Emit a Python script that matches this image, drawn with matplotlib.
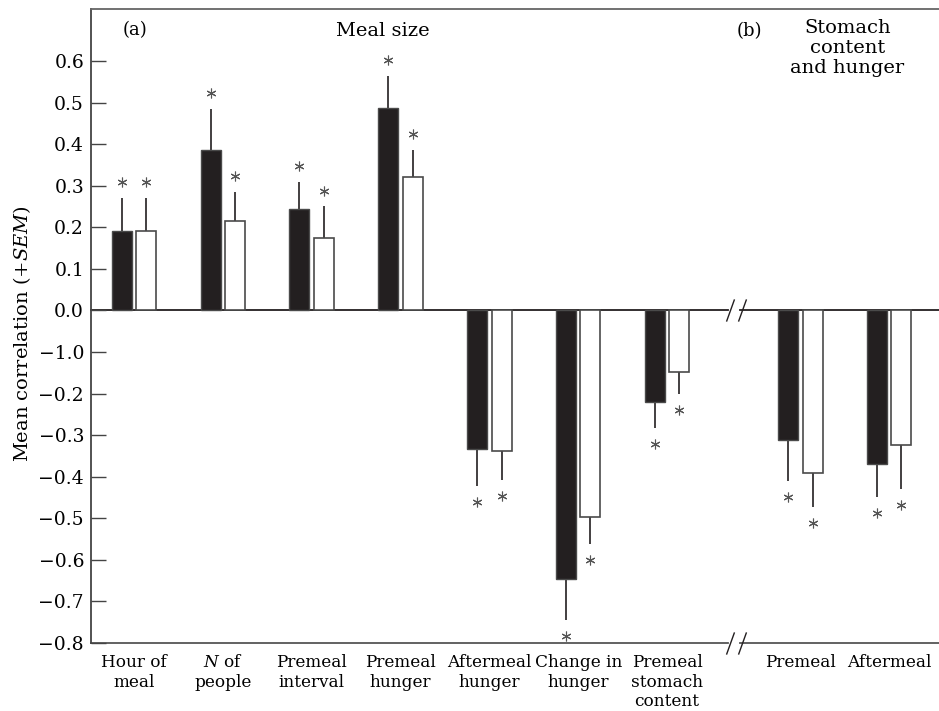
import numpy as np
import matplotlib
matplotlib.use('Agg')
import matplotlib.pyplot as plt
from matplotlib.path import Path
from matplotlib.transforms import offset_copy

plt.rcParams['font.family'] = ['DejaVu Serif']
plt.rcParams['mathtext.fontset'] = 'dejavuserif'

# values
categories = ['Hour of\nmeal', '$N$ of\npeople', 'Premeal\ninterval', 'Premeal\nhunger',
              'Aftermeal\nhunger', 'Change in\nhunger', 'Premeal\nstomach\ncontent',
              'Premeal', 'Aftermeal']
black_mean = [0.19, 0.386, 0.245, 0.487, -0.333, -0.647, -0.221, -0.312, -0.370]
black_sem = [0.08, 0.099, 0.065, 0.078, 0.09, 0.098, 0.063, 0.099, 0.078]
white_mean = [0.19, 0.215, 0.175, 0.32, -0.337, -0.498, -0.147, -0.39, -0.324]
white_sem = [0.08, 0.07, 0.075, 0.065, 0.07, 0.064, 0.055, 0.084, 0.105]
ytick_vals = [0.6, 0.5, 0.4, 0.3, 0.2, 0.1, 0.0, -0.1, -0.2, -0.3, -0.4, -0.5, -0.6, -0.7, -0.8]
ytick_labels = ['0.6', '0.5', '0.4', '0.3', '0.2', '0.1', '0.0', '\u22121.0', '\u22120.2',
                '\u22120.3', '\u22120.4', '\u22120.5', '\u22120.6', '\u22120.7', '\u22120.8']

DARK = '#231f20'
EDGE = '#4a4a4a'

# 7 meal-size groups, then a gap (axis break), then 2 stomach groups
positions = np.r_[np.arange(7), np.arange(2) + 7.5]
brk = (positions[6] + positions[7]) / 2
W = 0.225
OFF = 0.137

fig = plt.figure(figsize=(9.39, 7.11), dpi=100)
ax = fig.add_axes([91 / 939, 1 - 643 / 711, 848 / 939, 634 / 711])
xlim = (-0.483, 9.06)
ylim = (-0.8, 0.725)
ax.set_xlim(*xlim)
ax.set_ylim(*ylim)

ax.bar(positions - OFF, black_mean, width=W, color=DARK, edgecolor=EDGE, linewidth=1.0, zorder=3)
ax.bar(positions + OFF, white_mean, width=W, color='white', edgecolor=EDGE, linewidth=1.2, zorder=3)

# one-sided SEM lines and significance asterisks
for xs, m, s in [(positions - OFF, black_mean, black_sem), (positions + OFF, white_mean, white_sem)]:
    m = np.asarray(m)
    s = np.asarray(s)
    ends = m + np.sign(m) * s
    ax.vlines(xs, m, ends, color=DARK, linewidth=1.2, zorder=2)
    for x, e in zip(xs, ends):
        dy = 11.5 if e > 0 else -11.5
        tr = offset_copy(ax.transData, fig=fig, x=0, y=dy, units='points')
        ax.plot([x], [e], marker=(6, 2, 0), markersize=7, color='#555555',
                markeredgewidth=0.8, transform=tr, clip_on=False, zorder=4)

# zero line and bottom axis, both broken
gap = 0.07
for yv, col in [(0.0, DARK), (ylim[0], '#555555')]:
    ax.plot([xlim[0], brk - gap], [yv, yv], color=col, linewidth=1.3, clip_on=False, zorder=1)
    ax.plot([brk + gap, xlim[1]], [yv, yv], color=col, linewidth=1.3, clip_on=False, zorder=1)
    slash = Path([(-0.36, -1), (0.36, 1)], [Path.MOVETO, Path.LINETO])
    ax.plot([brk - 0.04, brk + 0.095], [yv, yv], linestyle='none', marker=slash,
            markersize=16, markerfacecolor='none', markeredgecolor=DARK,
            markeredgewidth=1.0, clip_on=False, zorder=5)

for side in ['right', 'bottom']:
    ax.spines[side].set_visible(False)
ax.spines['left'].set_color('#444444')
ax.spines['top'].set_color('#666666')
ax.spines['left'].set_linewidth(1.3)
ax.spines['top'].set_linewidth(1.3)

ax.set_yticks(ytick_vals, ytick_labels, fontsize=13.5)
ax.tick_params(axis='y', direction='in', length=11, width=1.0, color='#444444', pad=5)
ax.set_xticks(positions, categories, fontsize=12.2)
ax.tick_params(axis='x', length=0, pad=8)
for lab in ax.get_xticklabels():
    lab.set_linespacing(1.2)

fig.text(22 / 939, 1 - 334 / 711, 'Mean correlation (+$SEM$)', rotation=90,
         ha='center', va='center', fontsize=14)

ax.text(0.037, 0.967, '(a)', transform=ax.transAxes, ha='left', va='center', fontsize=13)
ax.text(0.344, 0.965, 'Meal size', transform=ax.transAxes, ha='center', va='center', fontsize=14)
ax.text(0.761, 0.965, '(b)', transform=ax.transAxes, ha='left', va='center', fontsize=13)
ax.text(0.892, 0.984, 'Stomach\ncontent\nand hunger', transform=ax.transAxes,
        ha='center', va='top', fontsize=14, linespacing=1.15)

fig.savefig('out.png', dpi=100)
